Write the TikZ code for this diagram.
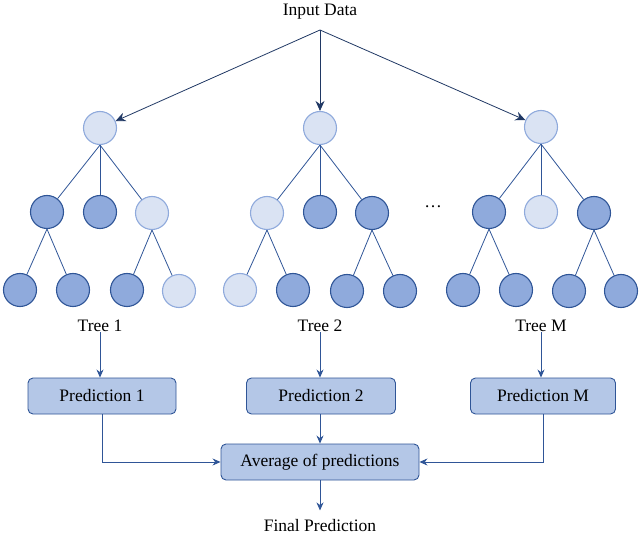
\documentclass[tikz,border=0pt]{standalone}
\usepackage{fontspec}
\setmainfont{Liberation Serif}
\usetikzlibrary{arrows.meta}
\definecolor{nodedark}{HTML}{8FAADC}
\definecolor{nodelight}{HTML}{DAE3F3}
\definecolor{edgeblue}{HTML}{2F5597}
\definecolor{lightrim}{HTML}{8FAADC}
\definecolor{boxfill}{HTML}{B4C7E7}
\definecolor{navy}{HTML}{203864}
\tikzset{
  full/.style={circle, minimum size=33pt, inner sep=0pt, fill=nodedark, draw=edgeblue, line width=1.1pt},
  pale/.style={circle, minimum size=33pt, inner sep=0pt, fill=nodelight, draw=lightrim, line width=1.1pt},
  branch/.style={draw=edgeblue, line width=0.8pt},
  feed/.style={draw=navy, line width=0.8pt, -{Stealth[length=10pt,width=9pt]}},
  flow/.style={draw=edgeblue, line width=0.8pt, -{Stealth[length=8pt,width=7pt]}},
  predbox/.style={rectangle, rounded corners=5pt, fill=boxfill, draw=edgeblue, line width=0.9pt,
    minimum height=36pt, inner xsep=8pt, font=\fontsize{17.5}{20}\selectfont},
  caption/.style={font=\fontsize{17.5}{20}\selectfont, inner sep=0pt}
}
\begin{document}
\begin{tikzpicture}[x=1pt, y=-1pt]
\useasboundingbox (0,0) rectangle (640,537);

% input
\node[caption] (input) at (320,12) {Input Data};
\coordinate (src) at (320,30);

% tree 1
\node[pale] (a) at (100,128) {};
\node[full] (a1) at (47,212) {};
\node[full] (a2) at (100,212) {};
\node[pale] (a3) at (152,213) {};
\node[full] (a11) at (20,290) {};
\node[full] (a12) at (73,290) {};
\node[full] (a31) at (127,290) {};
\node[pale] (a32) at (179,291) {};
\node[caption] (t1) at (100,326) {Tree 1};

% tree 2
\node[pale] (b) at (320,128) {};
\node[pale] (b1) at (267,213) {};
\node[full] (b2) at (320,212) {};
\node[full] (b3) at (372,213) {};
\node[pale] (b11) at (240,290) {};
\node[full] (b12) at (293,290) {};
\node[full] (b31) at (347,291) {};
\node[full] (b32) at (400,291) {};
\node[caption] (t2) at (320,326) {Tree 2};

\node[caption] (dots) at (433,207) {\dots};

% tree M
\node[pale] (c) at (541,127) {};
\node[full] (c1) at (489,212) {};
\node[pale] (c2) at (541,212) {};
\node[full] (c3) at (594,213) {};
\node[full] (c11) at (463,290) {};
\node[full] (c12) at (516,290) {};
\node[full] (c31) at (569,291) {};
\node[full] (c32) at (621,291) {};
\node[caption] (tm) at (541,326) {Tree M};

% branches
\foreach \p/\k in {a/a1,a/a2,a/a3,a1/a11,a1/a12,a3/a31,a3/a32,
                   b/b1,b/b2,b/b3,b1/b11,b1/b12,b3/b31,b3/b32,
                   c/c1,c/c2,c/c3,c1/c11,c1/c12,c3/c31,c3/c32}
  \draw[branch] (\p.south) -- (\k);

% input feeds
\draw[feed] (src) -- (a);
\draw[feed] (src) -- (b);
\draw[feed] (src) -- (c);

% predictions
\node[predbox, minimum width=148pt] (p1) at (102,396) {Prediction 1};
\node[predbox, minimum width=149pt] (p2) at (321,396) {Prediction 2};
\node[predbox, minimum width=145pt] (pm) at (543,396) {Prediction M};
\node[predbox, minimum width=198pt] (avg) at (320,462) {Average of predictions};
\node[caption] (final) at (320,526) {Final Prediction};

\draw[flow] (t1.south) ++(0,0) coordinate (t1s) -- (t1s |- p1.north);
\draw[flow] (t2.south) ++(0,0) coordinate (t2s) -- (t2s |- p2.north);
\draw[flow] (tm.south) ++(0,0) coordinate (tms) -- (tms |- pm.north);

\draw[flow] (p2.south -| avg.north) -- (avg.north);
\draw[flow] (p1.south) |- (avg.west);
\draw[flow] (pm.south) |- (avg.east);
\draw[flow] (avg.south) -- ++(0,30) coordinate (fin);
\end{tikzpicture}
\end{document}
